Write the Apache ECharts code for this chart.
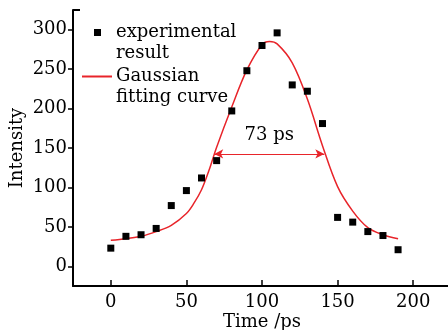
<!DOCTYPE html>
<html>
<head>
<meta charset="utf-8">
<script src="https://cdn.jsdelivr.net/npm/echarts@6/dist/echarts.min.js"></script>
<style>html,body{margin:0;padding:0;background:#fff}#c{width:448px;height:330px}</style>
</head>
<body>
<div id="c"></div>
<script>
// Experimental data (Time / ps, Intensity)
const timeData = [0, 10, 20, 30, 40, 50, 60, 70, 80, 90, 100, 110, 120, 130, 140, 150, 160, 170, 180, 190];
const intensityData = [23, 38, 40, 48, 77, 96, 112, 134, 197, 248, 280, 296, 230, 222, 181, 62, 56, 44, 39, 21];
// Gaussian fitting curve
const fitTime = [0, 10, 20, 30, 40, 50, 55, 60, 65, 70, 80, 90, 100, 105, 110, 120, 130, 140, 150, 160, 170, 180, 190];
const fitIntensity = [33, 35, 38, 44, 52, 67, 80, 97, 122, 151, 202, 249, 281, 285, 282, 258, 212, 153, 101, 70, 49, 40, 35];
// FWHM annotation
const fwhmStart = 68.4;
const fwhmEnd = 141.2;
const fwhmLevel = 142.5;
const fwhmLabel = '73 ps';
// Axis ticks
const xTicks = [0, 50, 100, 150, 200];
const yTicks = [0, 50, 100, 150, 200, 250, 300];

const FONT = 'DejaVu Serif';
const FS = 18;
const RED = '#e8242a';
const chart = echarts.init(document.getElementById('c'), null, {renderer: 'canvas'});
const scatterData = timeData.map((t, i) => [t, intensityData[i]]);
const fitData = fitTime.map((t, i) => [t, fitIntensity[i]]);

chart.setOption({
  animation: false,
  backgroundColor: '#fff',
  textStyle: {fontFamily: FONT, color: '#000'},
  grid: {left: 73, right: -3, top: 10, bottom: 44, outerBoundsMode: 'none', containLabel: false},
  legend: [
    {
      data: [{name: 'experimental\nresult', icon: 'rect'}],
      formatter: n => ' \n' + n,
      left: 94, top: 1, padding: 0,
      itemWidth: 7, itemHeight: 7,
      itemStyle: {opacity: 1},
      textStyle: {fontFamily: FONT, fontSize: FS, color: '#000', lineHeight: 21, padding: [0, 0, 0, 10]}
    },
    {
      data: [{name: 'Gaussian\nfitting curve', icon: 'rect'}],
      formatter: n => ' \n' + n,
      left: 82, top: 45, padding: 0,
      itemWidth: 30, itemHeight: 2,
      textStyle: {fontFamily: FONT, fontSize: FS, color: '#000', lineHeight: 21, padding: [0, 0, 0, -1]}
    }
  ],
  xAxis: {
    type: 'value', min: -25, max: 225, interval: 50,
    name: 'Time /ps', nameLocation: 'middle', nameGap: 27, nameMoveOverlap: false,
    nameTextStyle: {fontFamily: FONT, fontSize: FS, color: '#000'},
    axisLine: {onZero: false, lineStyle: {color: '#000', width: 2}},
    axisTick: {inside: true, length: 6, lineStyle: {color: '#000', width: 1.5},
      customValues: xTicks},
    axisLabel: {fontFamily: FONT, fontSize: FS, color: '#000', margin: 7,
      customValues: xTicks},
    splitLine: {show: false}
  },
  yAxis: {
    type: 'value', min: -25, max: 325, interval: 25,
    name: 'Intensity', nameLocation: 'middle', nameGap: 47, nameMoveOverlap: false,
    nameTextStyle: {fontFamily: FONT, fontSize: FS, color: '#000'},
    axisLine: {show: true, onZero: false, lineStyle: {color: '#000', width: 2}},
    axisTick: {show: true, inside: false, length: 5, lineStyle: {color: '#000', width: 1.5},
      customValues: yTicks},
    axisLabel: {fontFamily: FONT, fontSize: FS, color: '#000', margin: 6,
      customValues: yTicks},
    splitLine: {show: false}
  },
  graphic: [{
    type: 'line', shape: {x1: 73, y1: 10, x2: 80, y2: 10},
    style: {stroke: '#000', lineWidth: 2}
  }],
  series: [
    {
      name: 'Gaussian\nfitting curve',
      type: 'line',
      data: fitData,
      smooth: 0.35,
      symbol: 'none',
      lineStyle: {color: RED, width: 1.5},
      itemStyle: {color: RED},
      z: 2,
      markLine: {
        silent: true,
        symbol: ['arrow', 'arrow'],
        symbolSize: [7, 9],
        lineStyle: {color: RED, width: 1.2, type: 'solid'},
        label: {show: true, position: 'insideMiddleTop', formatter: fwhmLabel,
          fontFamily: FONT, fontSize: FS, color: '#000', distance: 10},
        data: [[{coord: [fwhmStart, fwhmLevel]}, {coord: [fwhmEnd, fwhmLevel]}]]
      }
    },
    {
      name: 'experimental\nresult',
      type: 'scatter',
      data: scatterData,
      symbol: 'rect',
      symbolSize: 7,
      itemStyle: {color: '#000', opacity: 1},
      z: 3
    }
  ]
});
</script>
</body>
</html>
